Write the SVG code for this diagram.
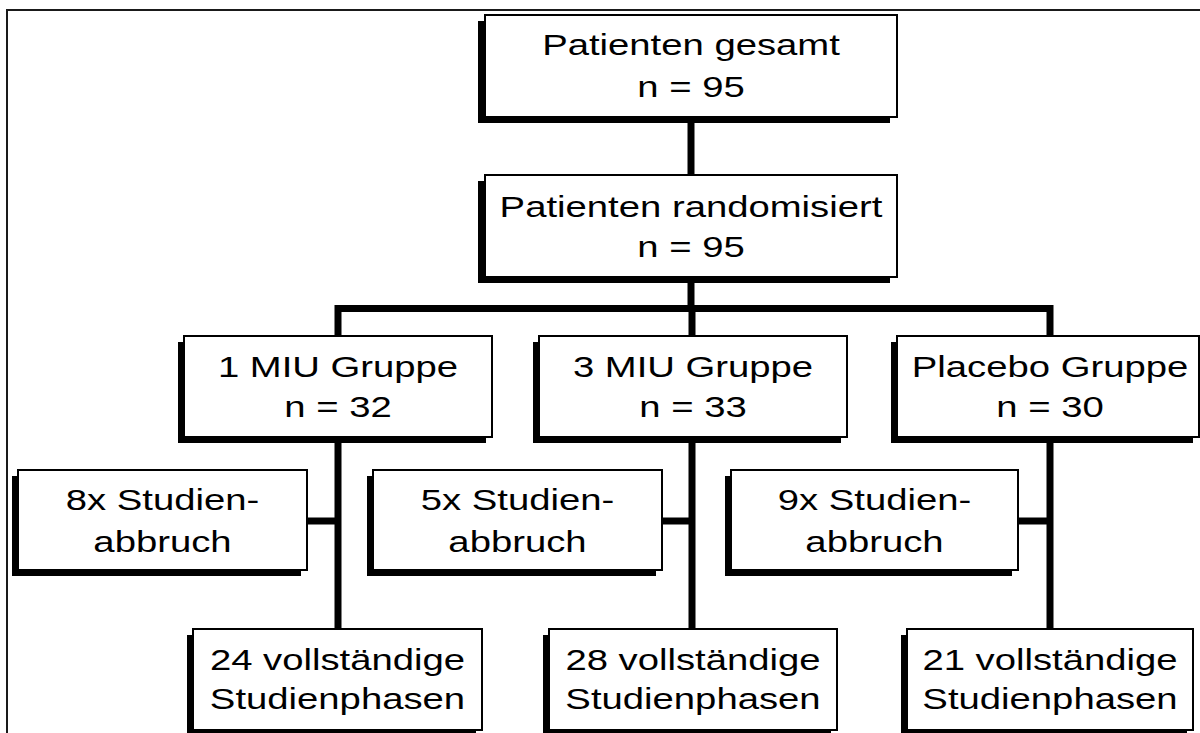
<svg xmlns="http://www.w3.org/2000/svg" width="1200" height="733" viewBox="0 0 1200 733">
<style>
.frame{fill:none;stroke:#1a1a1a;stroke-width:2}
.box{fill:#fff;stroke:#000;stroke-width:2}
.sh{fill:#000}
.c{fill:none;stroke:#000;stroke-width:7}
.t{font-family:"Liberation Sans",Arial,sans-serif;font-size:29px;fill:#000;text-anchor:middle}
</style>
<rect width="1200" height="733" fill="#fff"/>
<rect class="frame" x="7" y="10" width="1205" height="735"/>
<g id="connectors">
<line class="c" x1="691" y1="117" x2="691" y2="175"/>
<line class="c" x1="691" y1="277" x2="691" y2="309"/>
<path class="c" d="M338,336 V308.5 H1050 V336"/>
<line class="c" x1="692" y1="308" x2="692" y2="336"/>
<line class="c" x1="338" y1="437" x2="338" y2="629"/>
<line class="c" x1="692" y1="437" x2="692" y2="629"/>
<line class="c" x1="1050" y1="437" x2="1050" y2="629"/>
<line class="c" x1="307" y1="521" x2="338" y2="521"/>
<line class="c" x1="662" y1="521" x2="692" y2="521"/>
<line class="c" x1="1018" y1="521" x2="1050" y2="521"/>
</g>
<g id="gesamt">
<rect class="sh" x="478" y="21" width="412" height="102"/>
<rect class="box" x="485" y="15" width="412" height="102"/>
<text class="t" transform="translate(691,55) scale(1.32,1)">Patienten gesamt</text>
<text class="t" transform="translate(691,97) scale(1.32,1)">n = 95</text>
</g>
<g id="randomisiert">
<rect class="sh" x="478" y="181" width="412" height="102"/>
<rect class="box" x="485" y="175" width="412" height="102"/>
<text class="t" transform="translate(691,217) scale(1.32,1)">Patienten randomisiert</text>
<text class="t" transform="translate(691,257) scale(1.32,1)">n = 95</text>
</g>
<g id="miu1">
<rect class="sh" x="178" y="342" width="308" height="101"/>
<rect class="box" x="184" y="336" width="308" height="101"/>
<text class="t" transform="translate(338,377) scale(1.32,1)">1 MIU Gruppe</text>
<text class="t" transform="translate(338,417) scale(1.32,1)">n = 32</text>
</g>
<g id="miu3">
<rect class="sh" x="533" y="342" width="308" height="101"/>
<rect class="box" x="539" y="336" width="308" height="101"/>
<text class="t" transform="translate(693,377) scale(1.32,1)">3 MIU Gruppe</text>
<text class="t" transform="translate(693,417) scale(1.32,1)">n = 33</text>
</g>
<g id="placebo">
<rect class="sh" x="891" y="342" width="302" height="101"/>
<rect class="box" x="897" y="336" width="302" height="101"/>
<text class="t" transform="translate(1050,377) scale(1.32,1)">Placebo Gruppe</text>
<text class="t" transform="translate(1050,417) scale(1.32,1)">n = 30</text>
</g>
<g id="abbruch1">
<rect class="sh" x="12" y="476" width="289" height="100"/>
<rect class="box" x="18" y="470" width="289" height="100"/>
<text class="t" transform="translate(162.5,510) scale(1.32,1)">8x Studien-</text>
<text class="t" transform="translate(162.5,552) scale(1.32,1)">abbruch</text>
</g>
<g id="abbruch2">
<rect class="sh" x="367" y="476" width="289" height="100"/>
<rect class="box" x="373" y="470" width="289" height="100"/>
<text class="t" transform="translate(517.5,510) scale(1.32,1)">5x Studien-</text>
<text class="t" transform="translate(517.5,552) scale(1.32,1)">abbruch</text>
</g>
<g id="abbruch3">
<rect class="sh" x="725" y="476" width="287" height="100"/>
<rect class="box" x="731" y="470" width="287" height="100"/>
<text class="t" transform="translate(874.5,510) scale(1.32,1)">9x Studien-</text>
<text class="t" transform="translate(874.5,552) scale(1.32,1)">abbruch</text>
</g>
<g id="komplett1">
<rect class="sh" x="187" y="635" width="289" height="101"/>
<rect class="box" x="193" y="629" width="289" height="101"/>
<text class="t" transform="translate(337.5,670) scale(1.32,1)">24 vollständige</text>
<text class="t" transform="translate(337.5,709) scale(1.32,1)">Studienphasen</text>
</g>
<g id="komplett2">
<rect class="sh" x="543" y="635" width="288" height="101"/>
<rect class="box" x="549" y="629" width="288" height="101"/>
<text class="t" transform="translate(693,670) scale(1.32,1)">28 vollständige</text>
<text class="t" transform="translate(693,709) scale(1.32,1)">Studienphasen</text>
</g>
<g id="komplett3">
<rect class="sh" x="901" y="635" width="286" height="101"/>
<rect class="box" x="907" y="629" width="286" height="101"/>
<text class="t" transform="translate(1050,670) scale(1.32,1)">21 vollständige</text>
<text class="t" transform="translate(1050,709) scale(1.32,1)">Studienphasen</text>
</g>
</svg>
